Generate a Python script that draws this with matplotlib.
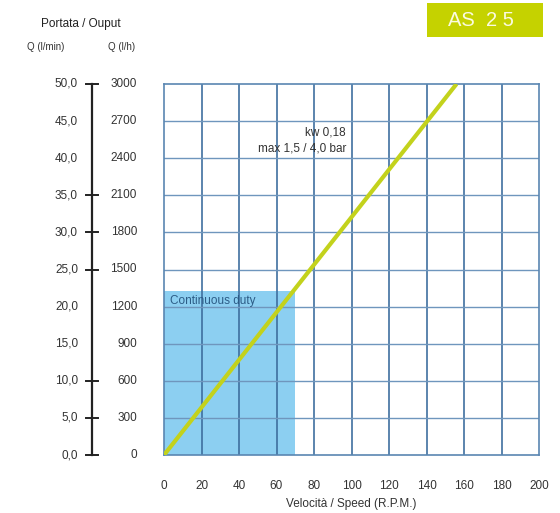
import matplotlib
matplotlib.use("Agg")
import matplotlib.pyplot as plt
from matplotlib.transforms import blended_transform_factory
from matplotlib.patches import Rectangle

plt.rcParams['font.family'] = ['Liberation Sans', 'DejaVu Sans']

# Data
speed_rpm = [0, 156]
flow_lh = [0, 3000]
duty_rpm_max = 70
duty_flow_max = 1330
x_ticks = [0, 20, 40, 60, 80, 100, 120, 140, 160, 180, 200]
y_ticks_lh = [0, 300, 600, 900, 1200, 1500, 1800, 2100, 2400, 2700, 3000]
y_labels_lmin = ["0,0", "5,0", "10,0", "15,0", "20,0", "25,0", "30,0", "35,0", "40,0", "45,0", "50,0"]
y_labels_lh = ["0", "300", "600", "900", "1200", "1500", "1800", "2100", "2400", "2700", "3000"]
tick_marks_lh = [0, 300, 600, 1500, 1800, 2100, 3000]

W, H = 560, 513
fig = plt.figure(figsize=(W / 100, H / 100), dpi=100)
ax = fig.add_axes([164 / W, 1 - 455 / H, (539 - 164) / W, (455 - 84) / H])
ax.set_xlim(0, 200)
ax.set_ylim(0, 3000)

vcol = '#3f6f9f'
hcol = '#6f96bd'
for x in x_ticks[1:-1]:
    ax.axvline(x, color=vcol, lw=1.2, zorder=1)
for y in y_ticks_lh[1:-1]:
    ax.axhline(y, color=hcol, lw=1.0, zorder=1)
for s in ax.spines.values():
    s.set_color('#5a86b2')
    s.set_linewidth(1.2)

ax.add_patch(Rectangle((0, 0), duty_rpm_max, duty_flow_max, facecolor='#80caf0',
                       edgecolor='none', alpha=0.9, zorder=0.5))
ax.text(3, duty_flow_max - 40, "Continuous duty", color='#2c5c86', fontsize=8.5,
        ha='left', va='top', zorder=3)

ax.plot(speed_rpm, flow_lh, color='#c3d21c', lw=3, zorder=4, solid_capstyle='butt')

ax.text(97, 2610, "kw 0,18", fontsize=8.5, ha='right', va='center', color='#333333')
ax.text(97, 2480, "max 1,5 / 4,0 bar", fontsize=8.5, ha='right', va='center', color='#333333')

ax.set_xticks(x_ticks)
ax.set_xticklabels([str(v) for v in x_ticks], fontsize=8.5, color='#333333')
ax.tick_params(axis='x', length=0, pad=18)
ax.set_yticks([])
ax.set_xlabel("Velocità / Speed (R.P.M.)", fontsize=8.5, color='#333333', labelpad=4)

# Left dual scale
tr = blended_transform_factory(fig.transFigure, ax.transData)
ax_x = 92 / W
ax.plot([ax_x, ax_x], [0, 3000], color='#222222', lw=1.6, transform=tr, clip_on=False)
for y in tick_marks_lh:
    ax.plot([ax_x - 6 / W, ax_x + 6 / W], [y, y], color='#222222', lw=1.4,
            transform=tr, clip_on=False)
for y, l1, l2 in zip(y_ticks_lh, y_labels_lmin, y_labels_lh):
    ax.text(78 / W, y, l1, transform=tr, ha='right', va='center', fontsize=8.5, color='#333333')
    ax.text(137 / W, y, l2, transform=tr, ha='right', va='center', fontsize=8.5, color='#333333')

fig.text(81 / W, 1 - 24 / H, "Portata / Ouput", ha='center', va='center', fontsize=8.5, color='#222222')
fig.text(46 / W, 1 - 47 / H, "Q (l/min)", ha='center', va='center', fontsize=7, color='#333333')
fig.text(122 / W, 1 - 47 / H, "Q (l/h)", ha='center', va='center', fontsize=7, color='#333333')

# Badge
fig.patches.append(Rectangle((427 / W, 1 - 37 / H), (543 - 427) / W, 34 / H,
                             transform=fig.transFigure, facecolor='#c5d200', edgecolor='none'))
fig.text(481 / W, 1 - 20 / H, "AS  2 5", ha='center', va='center', fontsize=14.5,
         color='#fbfbe0')

fig.savefig("out.png", dpi=100)
